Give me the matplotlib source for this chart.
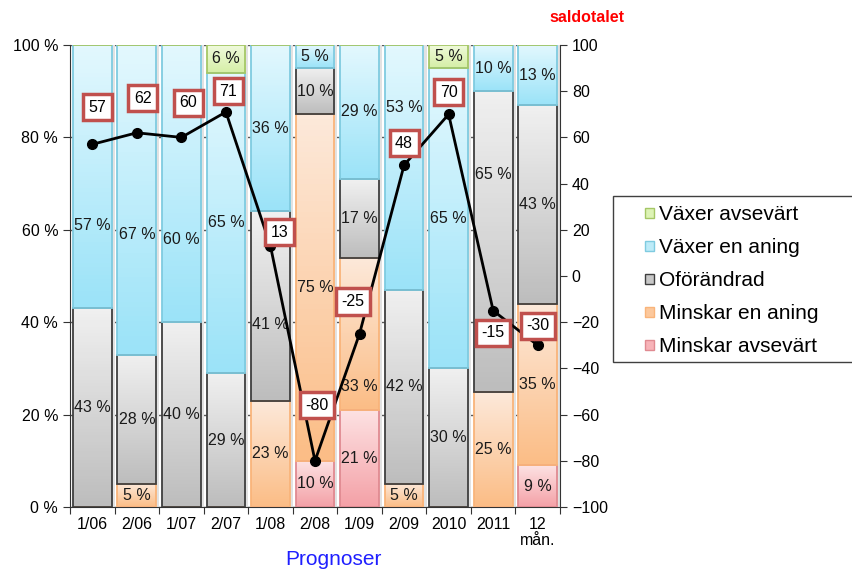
import numpy as np
import matplotlib
matplotlib.use("Agg")
import matplotlib.pyplot as plt
from matplotlib.colors import LinearSegmentedColormap
from matplotlib.patches import Patch, Rectangle

plt.rcParams['font.family'] = ['Liberation Sans', 'DejaVu Sans']

# Data (shares in %, bottom to top)
periods = ["1/06", "2/06", "1/07", "2/07", "1/08", "2/08", "1/09", "2/09", "2010", "2011", "12\nmån."]
minskar_avsevart = [0, 0, 0, 0, 0, 10, 21, 0, 0, 0, 9]
minskar_en_aning = [0, 5, 0, 0, 23, 75, 33, 5, 0, 25, 35]
oforandrad = [43, 28, 40, 29, 41, 10, 17, 42, 30, 65, 43]
vaxer_en_aning = [57, 67, 60, 65, 36, 5, 29, 53, 65, 10, 13]
vaxer_avsevart = [0, 0, 0, 6, 0, 0, 0, 0, 5, 0, 0]
saldotal = [57, 62, 60, 71, 13, -80, -25, 48, 70, -15, -30]

series_names = ["Minskar avsevärt", "Minskar en aning", "Oförändrad", "Växer en aning", "Växer avsevärt"]
series_values = [minskar_avsevart, minskar_en_aning, oforandrad, vaxer_en_aning, vaxer_avsevart]

# gradient (top, bottom), edge colour, legend colour per series
styles = {
    "Minskar avsevärt": ("#FDE2E3", "#F4A1A7", "#E08A91", "#F7B3B8"),
    "Minskar en aning": ("#FDE9DA", "#FBBD86", "#F9B47A", "#FCC89C"),
    "Oförändrad": ("#F0F0F0", "#BDBDBD", "#3F3F3F", "#C8C8C8"),
    "Växer en aning": ("#E3F8FE", "#9BE3F8", "#7FCBE0", "#BDEBF8"),
    "Växer avsevärt": ("#F0FADC", "#D5EFA6", "#A5C766", "#DDF3B5"),
}

# manual label placements (value in %) where the original moved them
label_y_override = {(0, 3): 61, (1, 3): 59, (2, 3): 58, (4, 2): 39.5,
                    (6, 1): 26, (7, 3): 86.5, (9, 2): 72}
# saldo box offsets (dx in categories, dy in saldo units)
saldo_offsets = [(0.11, 16), (0.13, 15), (0.15, 15), (0.05, 9), (0.21, 6), (0.04, 24),
                 (-0.15, 14), (0, 9.5), (0, 9.6), (0, -9.5), (0, 8.5)]

fig = plt.figure(figsize=(8.53, 5.70), dpi=100)
ax = fig.add_axes([70 / 853, 1 - 507 / 570, 490 / 853, 462 / 570])
x = np.arange(len(periods))
width = 0.87

# light shadow behind every stack
ax.bar(x + 0.07, [100] * len(x), width=width, color="#E2E2E2", zorder=1)

bottom = np.zeros(len(x))
for si, (name, vals) in enumerate(zip(series_names, series_values)):
    top_c, bot_c, edge_c, _ = styles[name]
    cmap = LinearSegmentedColormap.from_list(name, [top_c, bot_c])
    bars = ax.bar(x, vals, width=width, bottom=bottom, facecolor="none",
                  edgecolor=edge_c, linewidth=1.3, zorder=3)
    for i, (b, v) in enumerate(zip(bars, vals)):
        if v == 0:
            continue
        x0, y0 = b.get_x(), b.get_y()
        ax.imshow(np.linspace(0, 1, 64).reshape(-1, 1), cmap=cmap, aspect="auto",
                  origin="upper", extent=[x0, x0 + b.get_width(), y0, y0 + b.get_height()],
                  zorder=2)
        ly = label_y_override.get((i, si), bottom[i] + v / 2)
        ax.text(x[i], ly, f"{v} %", ha="center", va="center", fontsize=11.5,
                color="#1A1A1A", zorder=4)
    bottom += np.array(vals)

ax.set_xlim(-0.5, len(x) - 0.5)
ax.set_ylim(0, 100)
ax.set_yticks(range(0, 101, 20))
ax.set_yticklabels([f"{v} %" for v in range(0, 101, 20)])
ax.yaxis.grid(True, color="#595959", linewidth=1)
ax.set_axisbelow(True)

ax.set_xticks(np.arange(-0.5, len(x), 1))
ax.set_xticklabels([])
ax.set_xticks(x, minor=True)
ax.set_xticklabels(periods, minor=True, fontsize=11.5, linespacing=1.1)
ax.tick_params(axis="x", which="major", length=5, color="#333333")
ax.tick_params(axis="x", which="minor", length=0, pad=7)
ax.tick_params(axis="y", length=5, color="#333333", labelsize=11.5)
for s in ["top", "right"]:
    ax.spines[s].set_visible(False)
for s in ["left", "bottom"]:
    ax.spines[s].set_color("#333333")

ax.set_xlabel("Prognoser", fontsize=15, color="#1F1FFF")
ax.xaxis.label.set_va("center")
ax.xaxis.set_label_coords(0.537, -0.1126)

# saldo line on right axis
ax2 = ax.twinx()
ax2.plot(x, saldotal, color="black", linewidth=2, marker="o", markersize=7, zorder=5)
for xi, v, (dx, dy) in zip(x, saldotal, saldo_offsets):
    ax2.text(xi + dx, v + dy, str(v), ha="center", va="center", fontsize=11.5, zorder=6,
             bbox=dict(boxstyle="square,pad=0.35", facecolor="white",
                       edgecolor="#C0504D", linewidth=2.5))
ax2.set_ylim(-100, 100)
ax2.set_yticks(range(-100, 101, 20))
ax2.tick_params(axis="y", length=5, color="#333333", labelsize=11.5)
ax2.spines["top"].set_visible(False)
ax2.spines["left"].set_visible(False)
ax2.spines["bottom"].set_visible(False)
ax2.spines["right"].set_color("#333333")

fig.text(587 / 853, 1 - 17 / 570, "saldotalet", color="red", fontsize=11.5,
         fontweight="bold", ha="center", va="center")

# legend with its own frame running off the right edge
fig.patches.append(Rectangle((613 / 853, 1 - 362 / 570), 0.4, 166 / 570,
                             transform=fig.transFigure, facecolor="white",
                             edgecolor="#404040", linewidth=1))
handles = [Patch(facecolor=styles[n][3], edgecolor=styles[n][2], label=n)
           for n in reversed(series_names)]
fig.legend(handles=handles, loc="upper left", bbox_to_anchor=(635 / 853, 1 - 195 / 570),
           frameon=False, fontsize=15, handlelength=0.4, handleheight=0.4,
           handletextpad=0.25, labelspacing=0.67, borderpad=0)

fig.savefig("out.png", dpi=100)
